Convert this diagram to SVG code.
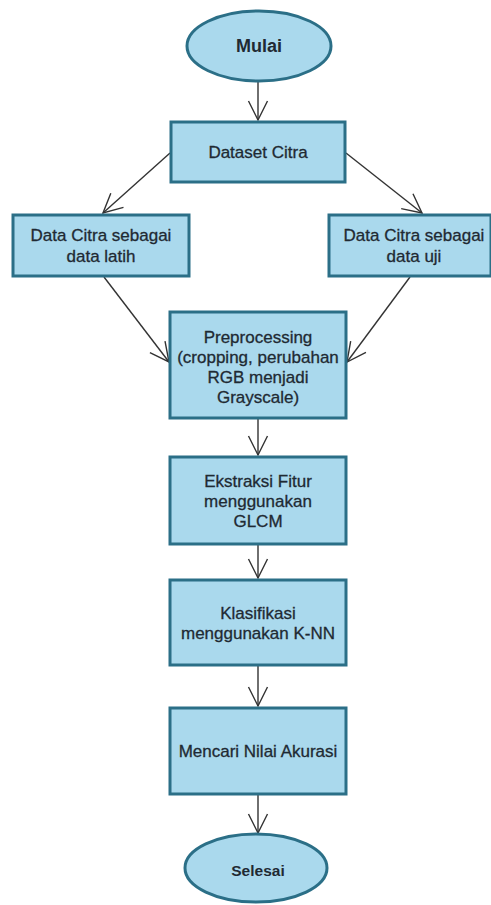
<svg xmlns="http://www.w3.org/2000/svg" width="491" height="905" viewBox="0 0 491 905">
<style>
.n{fill:#aad9ed;stroke:#2b6f87;stroke-width:3}
.t{font-family:"Liberation Sans",Arial,sans-serif;font-size:17px;fill:#1f2a33;stroke:#1f2a33;stroke-width:0.3;text-anchor:middle;dominant-baseline:central}
.b{font-weight:bold;stroke-width:0}
.c{fill:none;stroke:#333;stroke-width:1.4}
</style>
<defs>
<marker id="ah" markerUnits="userSpaceOnUse" viewBox="-21 -12 23 24" refX="0" refY="0" markerWidth="23" markerHeight="24" orient="auto">
<path d="M-19,-9.5 L0,0 L-19,9.5" fill="none" stroke="#333" stroke-width="1.4"/>
</marker>
</defs>
<rect width="491" height="905" fill="#fff"/>
<g id="connectors">
<line class="c" x1="258" y1="82" x2="258" y2="120" marker-end="url(#ah)"/>
<line class="c" x1="170" y1="153" x2="103" y2="213" marker-end="url(#ah)"/>
<line class="c" x1="346" y1="153" x2="422" y2="213" marker-end="url(#ah)"/>
<line class="c" x1="104" y1="277" x2="169" y2="362" marker-end="url(#ah)"/>
<line class="c" x1="410" y1="277" x2="347" y2="362" marker-end="url(#ah)"/>
<line class="c" x1="258" y1="418" x2="258" y2="455" marker-end="url(#ah)"/>
<line class="c" x1="258" y1="544" x2="258" y2="578" marker-end="url(#ah)"/>
<line class="c" x1="258" y1="665" x2="258" y2="706" marker-end="url(#ah)"/>
<line class="c" x1="258" y1="794" x2="258" y2="833" marker-end="url(#ah)"/>
</g>
<g id="mulai">
<ellipse class="n" cx="259" cy="46" rx="72" ry="35"/>
<text class="t b" x="259" y="46" style="font-size:18px">Mulai</text>
</g>
<g id="dataset">
<rect class="n" x="171" y="122" width="174" height="60"/>
<text class="t" x="258" y="152">Dataset Citra</text>
</g>
<g id="latih">
<rect class="n" x="13" y="215" width="176" height="61"/>
<text class="t" x="101" y="235">Data Citra sebagai</text>
<text class="t" x="101" y="256">data latih</text>
</g>
<g id="uji">
<rect class="n" x="329" y="215" width="162" height="61"/>
<text class="t" x="414" y="235">Data Citra sebagai</text>
<text class="t" x="414" y="256">data uji</text>
</g>
<g id="preprocessing">
<rect class="n" x="170" y="312" width="176" height="106"/>
<text class="t" x="258" y="337">Preprocessing</text>
<text class="t" x="258" y="357">(cropping, perubahan</text>
<text class="t" x="258" y="377">RGB menjadi</text>
<text class="t" x="258" y="397">Grayscale)</text>
</g>
<g id="ekstraksi">
<rect class="n" x="170" y="457" width="176" height="87"/>
<text class="t" x="258" y="481">Ekstraksi Fitur</text>
<text class="t" x="258" y="501">menggunakan</text>
<text class="t" x="258" y="521">GLCM</text>
</g>
<g id="klasifikasi">
<rect class="n" x="170" y="580" width="176" height="85"/>
<text class="t" x="258" y="613">Klasifikasi</text>
<text class="t" x="258" y="633">menggunakan K-NN</text>
</g>
<g id="akurasi">
<rect class="n" x="170" y="708" width="176" height="86"/>
<text class="t" x="258" y="751">Mencari Nilai Akurasi</text>
</g>
<g id="selesai">
<ellipse class="n" cx="256" cy="868" rx="71" ry="34"/>
<text class="t b" x="258" y="870" style="font-size:15.5px">Selesai</text>
</g>
</svg>
